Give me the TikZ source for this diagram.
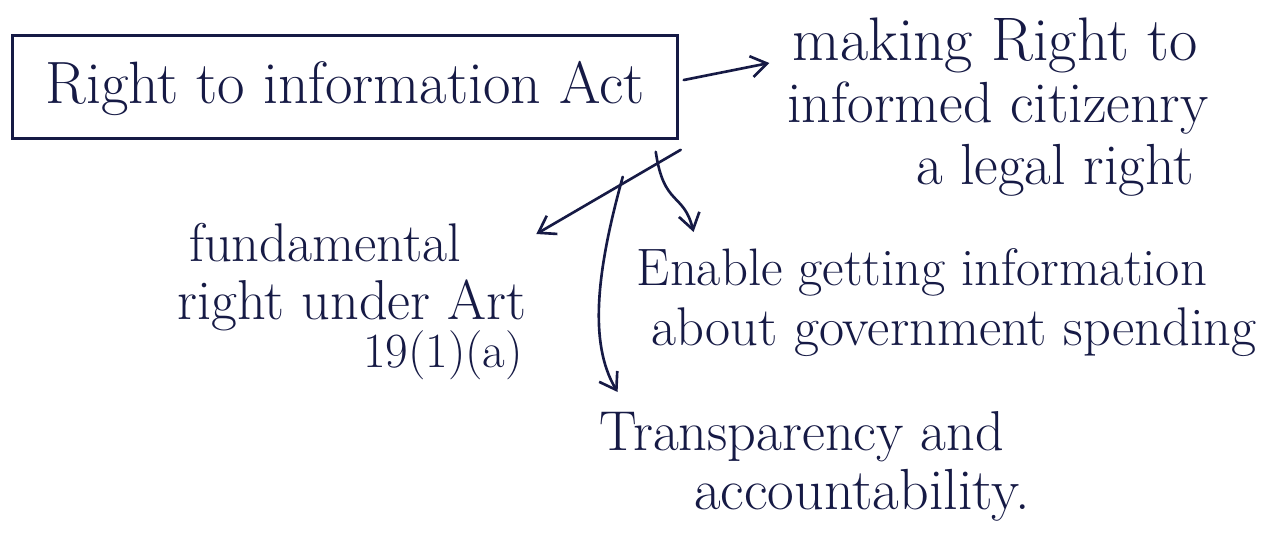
\documentclass[tikz,border=0pt]{standalone}
\usetikzlibrary{arrows.meta}
\definecolor{ink}{HTML}{161A45}
\tikzset{
  x=0.02cm, y=-0.02cm,
  hand/.style={text=ink, font=\fontsize{#1}{#1}\selectfont, inner sep=0pt, anchor=center},
  hand/.default=30,
  rtibox/.style={draw=ink, line width=1.5pt, minimum width=13.3cm, minimum height=2.06cm, inner sep=0pt},
  pen/.style={draw=ink, line width=1.5pt, line cap=round, line join=round},
  arr/.style={pen, -{Straight Barb[length=9pt, width=12pt, line width=1.5pt]}}
}
\begin{document}
\begin{tikzpicture}
\useasboundingbox[fill=white] (0,0) rectangle (1281,551);

% central box
\node[rtibox] (rti) at (345,87) {};
\node[hand=34] (rtitext) at (345,88) {Right to information Act};

% right: legal right
\node[hand=35] (m1) at (995,45) {making Right to};
\node[hand=33] (m2) at (998,108) {informed citizenry};
\node[hand=33] (m3) at (1055,170) {a legal right};

% lower left: fundamental right
\node[hand=31] (f1) at (325,243) {fundamental};
\node[hand=32] (f2) at (352,305) {right under Art};
\node[hand=28] (f3) at (443,355) {19(1)(a)};

% middle: government spending
\node[hand=30] (e1) at (922,272) {Enable getting information};
\node[hand=31] (e2) at (954,332) {about government spending};

% bottom: transparency
\node[hand=32] (t1) at (802,437) {Transparency and};
\node[hand=33] (t2) at (862,495) {accountability.};

% connectors
\draw[arr] ([xshift=0.1cm,yshift=0.14cm]rti.east) -- ([xshift=-0.46cm,yshift=-0.36cm]m1.west);
\draw[arr] ([xshift=0.04cm,yshift=-0.2cm]rti.south east) -- ([xshift=1.5cm,yshift=0.18cm]f1.east);
\draw[arr] ([xshift=-0.46cm,yshift=-0.24cm]rti.south east)
  .. controls +(8,55) and +(-10,-40) .. ([xshift=1.14cm,yshift=0.8cm]e1.west);
\draw[arr] ([xshift=-1.12cm,yshift=-0.74cm]rti.south east)
  .. controls +(-25,90) and +(-30,-50) .. ([xshift=0.36cm,yshift=0.9cm]t1.west);
\end{tikzpicture}
\end{document}
